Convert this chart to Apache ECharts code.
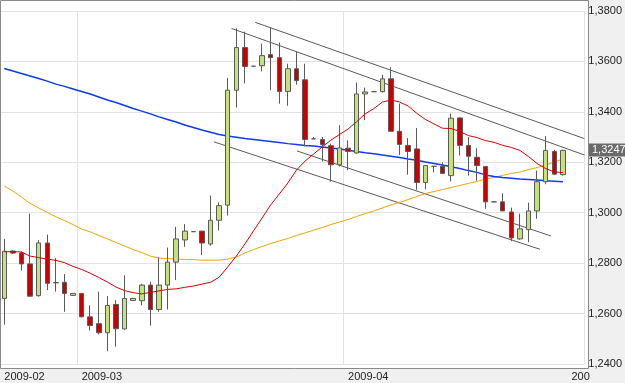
<!DOCTYPE html>
<html>
<head>
<meta charset="utf-8">
<script src="https://cdn.jsdelivr.net/npm/echarts@6/dist/echarts.min.js"></script>
<style>html,body{margin:0;padding:0;background:#f0f0f0;}#c{width:625px;height:383px;}</style>
</head>
<body>
<div id="c"></div>
<script>
const categories = [
'2009-02-20','2009-02-21','2009-02-22','2009-02-23','2009-02-24','2009-02-25','2009-02-26','2009-02-27','2009-02-28',
'2009-03-01','2009-03-02','2009-03-03','2009-03-04','2009-03-05','2009-03-06','2009-03-07','2009-03-08','2009-03-09','2009-03-10',
'2009-03-11','2009-03-12','2009-03-13','2009-03-14','2009-03-15','2009-03-16','2009-03-17','2009-03-18','2009-03-19','2009-03-20',
'2009-03-21','2009-03-22','2009-03-23','2009-03-24','2009-03-25','2009-03-26','2009-03-27','2009-03-28','2009-03-29','2009-03-30','2009-03-31',
'2009-04-01','2009-04-02','2009-04-03','2009-04-04','2009-04-05','2009-04-06','2009-04-07','2009-04-08','2009-04-09','2009-04-10',
'2009-04-11','2009-04-12','2009-04-13','2009-04-14','2009-04-15','2009-04-16','2009-04-17','2009-04-18','2009-04-19','2009-04-20',
'2009-04-21','2009-04-22','2009-04-23','2009-04-24','2009-04-25','2009-04-26','2009-04-27','2009-04-28'];

const opens = [1.2660,1.2848,1.2840,1.2797,1.2671,1.2880,1.2723,1.2724,1.2672,1.2680,
1.2587,1.2560,1.2524,1.2636,1.2539,1.2652,1.2651,1.2713,1.2616,1.2713,
1.2804,1.2892,1.2925,1.2927,1.2876,1.2970,1.3030,1.3486,1.3655,1.3581,
1.3583,1.3627,1.3615,1.3481,1.3571,1.3527,1.3293,1.3290,1.3266,1.3190,
1.3256,1.3237,1.3471,1.3480,1.3480,1.3531,1.3323,1.3267,1.3253,1.3120,
1.3184,1.3184,1.3147,1.3376,1.3267,1.3220,1.3183,1.3043,1.3043,1.3003,
1.2896,1.2933,1.3007,1.3123,1.3243,1.3151];
const closes = [1.2847,1.2840,1.2797,1.2669,1.2880,1.2720,1.2722,1.2680,1.2680,1.2587,
1.2553,1.2524,1.2632,1.2540,1.2660,1.2660,1.2713,1.2616,1.2713,1.2804,
1.2896,1.2927,1.2925,1.2880,1.2970,1.3028,1.3486,1.3655,1.3580,1.3581,
1.3623,1.3615,1.3481,1.3571,1.3524,1.3290,1.3293,1.3270,1.3190,1.3257,
1.3243,1.3471,1.3479,1.3480,1.3531,1.3323,1.3271,1.3243,1.3120,1.3187,
1.3184,1.3156,1.3375,1.3267,1.3224,1.3187,1.3043,1.3043,1.3007,1.2900,
1.2936,1.3007,1.3123,1.3247,1.3153,1.3247];
const lows = [1.2556,1.2836,1.2771,1.2667,1.2667,1.2693,1.2687,1.2607,1.2671,1.2585,
1.2533,1.2517,1.2451,1.2469,1.2537,1.2651,1.2633,1.2552,1.2607,1.2616,
1.2733,1.2865,1.2923,1.2832,1.2869,1.2929,1.2989,1.3417,1.3513,1.3580,
1.3561,1.3486,1.3433,1.3424,1.3508,1.3263,1.3292,1.3203,1.3123,1.3183,
1.3169,1.3233,1.3367,1.3479,1.3477,1.3323,1.3229,1.3151,1.3091,1.3093,
1.3160,1.3156,1.3124,1.3227,1.3147,1.3127,1.3016,1.3042,1.3007,1.2887,
1.2893,1.2883,1.2976,1.3113,1.3149,1.3147];
const highs = [1.2896,1.2851,1.2847,1.2996,1.2891,1.2913,1.2820,1.2757,1.2681,1.2681,
1.2633,1.2687,1.2669,1.2653,1.2752,1.2662,1.2718,1.2726,1.2823,1.2862,
1.2944,1.2955,1.2927,1.2928,1.3068,1.3041,1.3535,1.3731,1.3718,1.3582,
1.3671,1.3735,1.3675,1.3591,1.3637,1.3591,1.3300,1.3300,1.3274,1.3347,
1.3287,1.3516,1.3496,1.3481,1.3547,1.3577,1.3433,1.3296,1.3336,1.3188,
1.3185,1.3200,1.3393,1.3378,1.3300,1.3256,1.3184,1.3044,1.3077,1.3020,
1.2996,1.3040,1.3167,1.3304,1.3249,1.3250];

const maRed = [1.2845,1.2846,1.2844,1.2828,1.2822,1.2816,1.2811,1.2802,1.2787,1.2775,
1.2760,1.2743,1.2725,1.2705,1.2691,1.2683,1.2678,1.2684,1.2690,1.2696,
1.2698,1.2704,1.2709,1.2717,1.2724,1.2744,1.2785,1.2828,1.2876,1.2928,
1.2979,1.3031,1.3074,1.3118,1.3169,1.3205,1.3233,1.3261,1.3288,1.3310,
1.3332,1.3361,1.3392,1.3413,1.3439,1.3447,1.3439,1.3423,1.3394,1.3370,
1.3352,1.3335,1.3334,1.3322,1.3306,1.3298,1.3286,1.3279,1.3267,1.3259,
1.3247,1.3223,1.3195,1.3175,1.3162,1.3159];
const maOrange = [1.3106,1.3086,1.3062,1.3037,1.3019,1.3001,1.2984,1.2969,1.2953,1.2935,
1.2924,1.2910,1.2896,1.2882,1.2868,1.2854,1.2842,1.2828,1.2820,1.2818,
1.2816,1.2815,1.2814,1.2812,1.2812,1.2812,1.2816,1.2824,1.2840,1.2854,
1.2866,1.2878,1.2888,1.2898,1.2910,1.2920,1.2931,1.2941,1.2953,1.2963,
1.2973,1.2985,1.2997,1.3007,1.3019,1.3031,1.3041,1.3052,1.3064,1.3076,
1.3084,1.3092,1.3100,1.3108,1.3116,1.3124,1.3134,1.3140,1.3148,1.3156,
1.3161,1.3171,1.3179,1.3189,1.3201,1.3213];
const maBlue = [1.3572,1.3562,1.3552,1.3542,1.3532,1.3522,1.3510,1.3501,1.3491,1.3481,
1.3471,1.3459,1.3447,1.3437,1.3425,1.3413,1.3403,1.3392,1.3380,1.3370,
1.3360,1.3348,1.3338,1.3328,1.3319,1.3310,1.3304,1.3299,1.3294,1.3290,
1.3286,1.3282,1.3278,1.3274,1.3271,1.3267,1.3265,1.3261,1.3257,1.3253,
1.3248,1.3243,1.3238,1.3234,1.3229,1.3224,1.3219,1.3213,1.3208,1.3201,
1.3195,1.3189,1.3182,1.3175,1.3167,1.3160,1.3150,1.3144,1.3140,1.3137,
1.3134,1.3132,1.3130,1.3127,1.3125,1.3123];

// trend channel lines: [category position, price]
const trendA = [[29.2, 1.3755], [67.5, 1.3294]];
const trendB = [[26.44, 1.3731], [67.5, 1.3229]];
const trendC = [[34.06, 1.3245], [63.6, 1.2908]];
const trendD = [[24.4, 1.3281], [62.33, 1.2855]];

const labelIdx = [0, 9, 40, 66];
const labelText = ['2009-02', '2009-03', '2009-04', '200'];
const monthLineIdx = [9, 40];
const lastPrice = 1.3247;

const FONT = 'Arial, "Liberation Sans", sans-serif';
const fmt = (v) => v.toFixed(4).replace('.', ',');
const chart = echarts.init(document.getElementById('c'), null, {renderer: 'canvas'});
const candleData = opens.map((o, i) => [o, closes[i], lows[i], highs[i]]);
const trendStyle = {color: '#5a5a5a', width: 1};
function trend(d) {
  return {type: 'line', xAxisIndex: 1, data: d, symbol: 'none', silent: true,
    lineStyle: trendStyle, z: 3, animation: false};
}
chart.setOption({
  animation: false,
  backgroundColor: '#f0f0f0',
  graphic: [
    {id: 'bg', type: 'rect', z: -10, shape: {x: 0, y: 0, width: 589, height: 369}, style: {fill: '#ffffff'}},
    {id: 'frame', type: 'rect', z: 100, shape: {x: 0.5, y: 0.5, width: 588, height: 368}, style: {fill: null, stroke: '#8a8a8a', lineWidth: 1}}
  ],
  grid: {left: -2.65, right: 36.05, top: 11, bottom: 19, containLabel: false},
  xAxis: [{
    type: 'category', data: categories, boundaryGap: true,
    axisLine: {show: false}, axisTick: {show: false},
    axisLabel: {
      interval: (i) => labelIdx.indexOf(i) >= 0,
      formatter: (v, i) => { const k = labelIdx.indexOf(i); return k >= 0 ? labelText[k] : ''; },
      align: 'left', margin: 7, color: '#222', fontSize: 11, fontFamily: FONT
    },
    splitLine: {show: true, interval: (i) => monthLineIdx.indexOf(i) >= 0, lineStyle: {color: '#e2e2e2', width: 1}}
  }, {
    type: 'value', min: -0.5, max: 67.5, show: false, splitLine: {show: false}
  }],
  yAxis: {
    type: 'value', position: 'right', min: 1.24, max: 1.38, interval: 0.02,
    axisLine: {show: false}, axisTick: {show: false},
    axisLabel: {formatter: fmt, margin: 4, color: '#222', fontSize: 11, fontFamily: FONT},
    splitLine: {show: true, lineStyle: {color: '#e2e2e2', width: 1}}
  },
  series: [
    trend(trendA), trend(trendB), trend(trendC), trend(trendD),
    {type: 'line', data: maOrange, symbol: 'none', lineStyle: {color: '#f0a400', width: 1}, z: 4, silent: true},
    {type: 'line', data: maBlue, symbol: 'none', lineStyle: {color: '#0a3cf0', width: 1.5}, z: 4, silent: true},
    {type: 'candlestick', data: candleData, barWidth: 5, z: 5,
      itemStyle: {color: '#c4e17b', color0: '#cc0000', borderColor: '#5a5a5a', borderColor0: '#5a5a5a', borderWidth: 1}
    },
    {type: 'line', data: maRed, symbol: 'none', lineStyle: {color: '#dd0000', width: 1}, z: 6, silent: true}
  ]
});
// current-price tag placed through the y scale
const tagY = chart.convertToPixel({yAxisIndex: 0}, lastPrice);
chart.setOption({
  graphic: [
    {id: 'tagbox', type: 'rect', z: 110, shape: {x: 589, y: Math.round(tagY) - 6.5, width: 36, height: 13}, style: {fill: '#6a6a6a'}},
    {id: 'tagtext', type: 'text', z: 111, x: 592, y: Math.round(tagY) - 0.5,
      style: {text: fmt(lastPrice), fill: '#ffffff', font: '11px ' + FONT, verticalAlign: 'middle', align: 'left'}}
  ]
});
</script>
</body>
</html>
